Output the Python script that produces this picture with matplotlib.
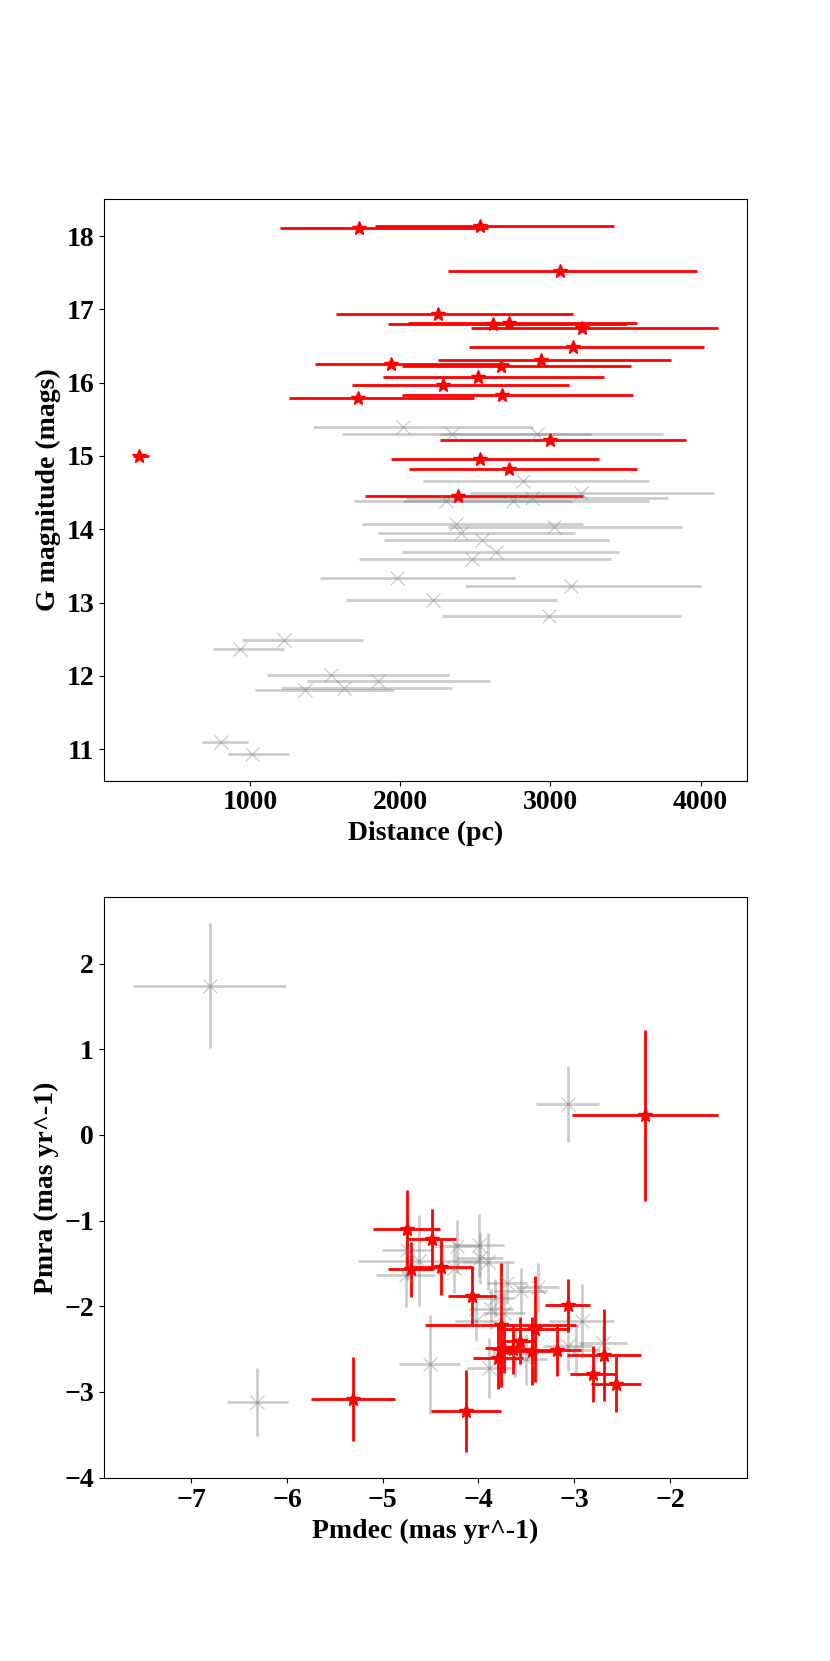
import numpy as np
import matplotlib
matplotlib.use("Agg")
import matplotlib.pyplot as plt

plt.rcParams['font.family'] = ['Liberation Serif', 'DejaVu Serif']
plt.rcParams['font.weight'] = 'bold'
plt.rcParams['axes.labelweight'] = 'bold'
plt.rcParams['font.size'] = 20

# --- top panel: distance vs G magnitude (asymmetric distance errors) ---
# members (red)
dist_m = [1722, 2533, 3064, 2251, 2620, 2721, 3209, 3149, 2937, 1934,
          2673, 2515, 2282, 1717, 2678, 2995, 257, 2530, 2721, 2383]
dist_lo_m = [1199, 1833, 2317, 1572, 1918, 2053, 2467, 2454, 2251, 1427,
             2008, 1886, 1680, 1255, 2008, 2266, 217, 1939, 2055, 1762]
dist_hi_m = [2586, 3426, 3975, 3151, 3508, 3576, 4115, 4025, 3801, 2721,
             3534, 3360, 3122, 2488, 3550, 3906, 323, 3326, 3579, 3220]
gmag_m = [18.11, 18.14, 17.52, 16.93, 16.80, 16.81, 16.74, 16.48, 16.31, 16.25,
          16.22, 16.07, 15.97, 15.79, 15.83, 15.22, 15.00, 14.96, 14.82, 14.45]

# others (grey)
dist_o = [2018, 2346, 2911, 2816, 3201, 2879, 2303, 2752, 2369, 3022,
          2401, 2541, 2634, 2480, 1978, 3135, 2219, 2990, 1226, 930,
          1537, 1847, 1622, 1361, 803, 1009]
dist_lo_o = [1419, 1611, 2259, 2153, 2462, 2039, 1691, 2018, 1743, 2317,
             1852, 1889, 2013, 1725, 1464, 2430, 1635, 2277, 943, 753,
             1107, 1374, 1202, 1028, 679, 851]
dist_hi_o = [2884, 3273, 3751, 3658, 4090, 3782, 3143, 3658, 3214, 3875,
             3164, 3391, 3457, 3405, 2766, 4002, 3043, 3870, 1749, 1221,
             2325, 2599, 2343, 1960, 983, 1255]
gmag_o = [15.40, 15.30, 15.30, 14.66, 14.49, 14.43, 14.38, 14.38, 14.07, 14.03,
          13.95, 13.85, 13.69, 13.60, 13.34, 13.23, 13.03, 12.81, 12.49, 12.36,
          12.01, 11.93, 11.83, 11.80, 11.10, 10.93]

# --- bottom panel: proper motions ---
pmdec_m = [-2.26, -5.31, -4.13, -4.75, -4.49, -4.71, -4.39, -4.07, -3.07, -3.77,
           -3.41, -3.57, -3.73, -3.64, -3.44, -3.18, -3.80, -2.69, -2.80, -2.56]
pmdec_err_m = [0.76, 0.44, 0.37, 0.35, 0.25, 0.24, 0.32, 0.25, 0.24, 0.79,
               0.36, 0.17, 0.20, 0.22, 0.30, 0.25, 0.26, 0.39, 0.24, 0.26]
pmra_m = [0.23, -3.08, -3.22, -1.10, -1.22, -1.57, -1.54, -1.88, -1.99, -2.22,
          -2.27, -2.40, -2.49, -2.50, -2.52, -2.51, -2.60, -2.57, -2.79, -2.91]
pmra_err_m = [1.00, 0.49, 0.48, 0.46, 0.35, 0.32, 0.33, 0.35, 0.31, 0.72,
              0.62, 0.28, 0.29, 0.29, 0.40, 0.30, 0.37, 0.54, 0.33, 0.33]

pmdec_o = [-6.81, -3.07, -6.31, -4.51, -4.75, -4.62, -4.76, -4.22, -3.99, -3.98,
           -3.90, -4.26, -3.70, -3.56, -3.38, -3.83, -3.87, -3.73, -4.03, -2.92,
           -2.70, -3.07, -2.98, -3.89, -3.50, -3.62]
pmdec_err_o = [0.80, 0.33, 0.32, 0.32, 0.26, 0.64, 0.31, 0.23, 0.26, 0.24,
               0.27, 0.22, 0.21, 0.28, 0.22, 0.20, 0.23, 0.22, 0.22, 0.34,
               0.25, 0.26, 0.25, 0.23, 0.22, 0.24]
pmra_o = [1.74, 0.36, -3.12, -2.68, -1.34, -1.47, -1.63, -1.30, -1.29, -1.44,
          -1.48, -1.55, -1.73, -1.82, -1.78, -1.90, -2.03, -2.08, -2.17, -2.17,
          -2.43, -2.46, -2.51, -2.72, -2.62, -2.55]
pmra_err_o = [0.73, 0.44, 0.40, 0.58, 0.35, 0.53, 0.38, 0.31, 0.37, 0.30,
              0.33, 0.30, 0.24, 0.27, 0.29, 0.22, 0.23, 0.25, 0.23, 0.43,
              0.20, 0.30, 0.30, 0.35, 0.30, 0.28]

fig, (ax1, ax2) = plt.subplots(2, 1, figsize=(8.3, 16.61), dpi=100)

# top
xerr_o = [np.array(dist_o) - np.array(dist_lo_o), np.array(dist_hi_o) - np.array(dist_o)]
xerr_m = [np.array(dist_m) - np.array(dist_lo_m), np.array(dist_hi_m) - np.array(dist_m)]
ax1.errorbar(dist_o, gmag_o, xerr=xerr_o, fmt='x', color='grey', alpha=0.4,
             markersize=10, elinewidth=2)
ax1.errorbar(dist_m, gmag_m, xerr=xerr_m, fmt='*', color='red',
             markersize=10, elinewidth=2)
ax1.set_xlabel('Distance (pc)')
ax1.set_ylabel('G magnitude (mags)')

# bottom
ax2.errorbar(pmdec_o, pmra_o, xerr=pmdec_err_o, yerr=pmra_err_o, fmt='x',
             color='grey', alpha=0.4, markersize=10, elinewidth=2)
ax2.errorbar(pmdec_m, pmra_m, xerr=pmdec_err_m, yerr=pmra_err_m, fmt='*',
             color='red', markersize=10, elinewidth=2)
ax2.set_xlabel('Pmdec (mas yr^-1)')
ax2.set_ylabel('Pmra (mas yr^-1)')

fig.savefig('out.png', dpi=100)
